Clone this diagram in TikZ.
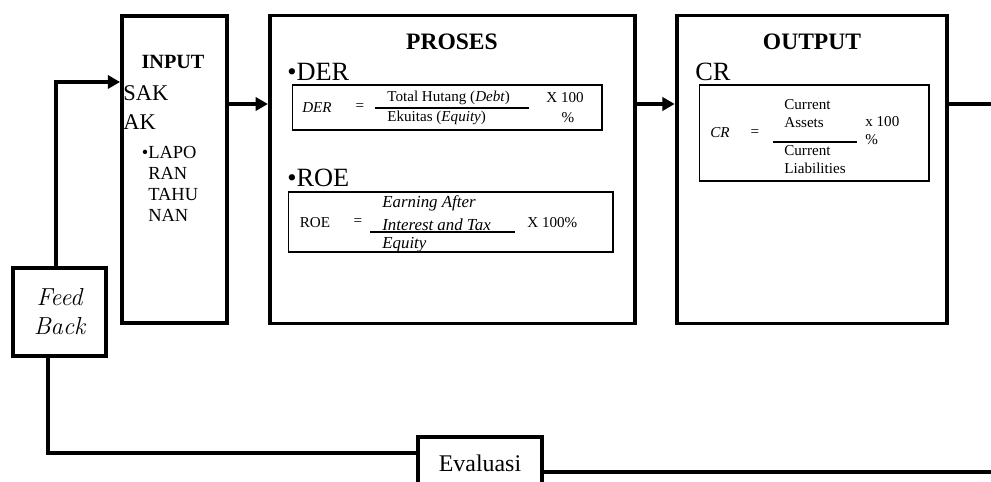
\documentclass[tikz,border=0pt]{standalone}
\usepackage{fontspec}
\newfontfamily\tnr{Liberation Serif}
\usetikzlibrary{positioning,arrows.meta}

\begin{document}
\begin{tikzpicture}[x=0.02cm, y=-0.02cm,
  every node/.style={font=\tnr, inner sep=0pt},
  box/.style={rectangle, draw, line width=2.2pt, inner sep=0pt},
  fbox/.style={rectangle, draw, line width=0.6pt},
  ttl/.style={font=\tnr\bfseries\fontsize{13.4}{15}\selectfont},
  head/.style={font=\tnr\fontsize{15}{17}\selectfont, anchor=west},
  small/.style={font=\tnr\fontsize{8.6}{10.2}\selectfont},
  smallit/.style={font=\tnr\itshape\fontsize{8.6}{10.2}\selectfont},
  ital/.style={font=\tnr\itshape\fontsize{9.6}{11.4}\selectfont, anchor=west},
  arr/.style={-{Triangle[length=7pt,width=7.5pt]}, line width=2.2pt},
  link/.style={line width=2.2pt},
  frac/.style={line width=0.6pt}
]
  \useasboundingbox (0,0) rectangle (991,482);

  % main blocks
  \node[box, minimum width=2.1cm, minimum height=6.14cm] (inp) at (174.5,169.5) {};
  \node[box, minimum width=7.3cm, minimum height=6.16cm, right=0.78cm of inp] (pro) {};
  \node[box, minimum width=5.4cm, minimum height=6.16cm, right=0.76cm of pro] (out) {};
  \node[box, minimum width=1.86cm, minimum height=1.76cm, align=center,
        font=\rmfamily\itshape\fontsize{14}{16.5}\selectfont] (fb) at (59.5,312) {Feed\\Back};
  \node[box, minimum width=2.48cm, minimum height=1.04cm,
        font=\tnr\fontsize{13.6}{16}\selectfont] (ev) at (480,463) {Evaluasi};

  % input
  \node[ttl, font=\tnr\bfseries\fontsize{11.5}{13}\selectfont] (inpt) at (173,62) {INPUT};
  \node[anchor=west, font=\tnr\fontsize{12.8}{15}\selectfont] (sak) at (123,93) {SAK};
  \node[anchor=west, font=\tnr\fontsize{12.8}{15}\selectfont] (ak) at (123,122) {AK};
  \node[anchor=north west, align=left, font=\tnr\fontsize{10.5}{12}\selectfont] (lap) at (148,146)
    {\llap{\textbullet}LAPO\\RAN\\TAHU\\NAN};

  % proses
  \node[ttl] (prot) at (452,42) {PROSES};
  \node[head] (der) at (287,72) {\textbullet DER};
  \node[fbox, minimum width=6.2cm, minimum height=0.9cm] (derf) at (447,107.5) {};
  \node[smallit] (derl) at (317,108) {DER};
  \node[small] (dereq) at (360,107) {=};
  \node[small, anchor=west] (dern) at (387,98) {Total Hutang (\textit{Debt})};
  \node[small, anchor=west] (derd) at (387,118) {Ekuitas (\textit{Equity})};
  \draw[frac] (375,108) -- (529,108);
  \node[small] (derx) at (565,98) {X 100};
  \node[small] (derp) at (568,118) {\%};

  \node[head] (roe) at (287,178) {\textbullet ROE};
  \node[fbox, minimum width=6.5cm, minimum height=1.2cm] (roef) at (450.5,222) {};
  \node[small] (roel) at (315,223) {ROE};
  \node[small] (roeeq) at (358,222) {=};
  \node[ital] (roen1) at (382,203) {Earning After};
  \node[ital] (roen2) at (382,225) {Interest and Tax};
  \node[ital] (roed) at (382,245) {Equity};
  \draw[frac] (370,232) -- (515,232);
  \node[small, anchor=west] (roex) at (527,223) {X 100\%};

  % output
  \node[ttl] (outt) at (812,42) {OUTPUT};
  \node[head] (cr) at (695,72) {CR};
  \node[fbox, minimum width=4.6cm, minimum height=1.92cm] (crf) at (814,133) {};
  \node[smallit] (crl) at (720,133) {CR};
  \node[small] (creq) at (755,133) {=};
  \node[small, anchor=west, align=left] (crn) at (784,114) {Current\\Assets};
  \draw[frac] (773,142) -- (857,142);
  \node[small, anchor=west, align=left] (crd) at (784,160) {Current\\Liabilities};
  \node[small, anchor=west, align=left] (crx) at (865,131) {x 100\\\%};

  % connectors
  \coordinate (outr) at (991,104);
  \coordinate (evr) at (991,472);
  \draw[arr] (inp.east |- 0,104) -- (pro.west |- 0,104);
  \draw[arr] (pro.east |- 0,104) -- (out.west |- 0,104);
  \draw[link] (out.east |- outr) -- (outr);
  \draw[arr] ([xshift=-0.07cm]fb.north) |- (inp.west |- 0,82);
  \draw[link] ([xshift=-0.23cm]fb.south) |- ([yshift=0.2cm]ev.west);
  \draw[link] ([yshift=-0.18cm]ev.east) -- (evr);
\end{tikzpicture}
\end{document}
